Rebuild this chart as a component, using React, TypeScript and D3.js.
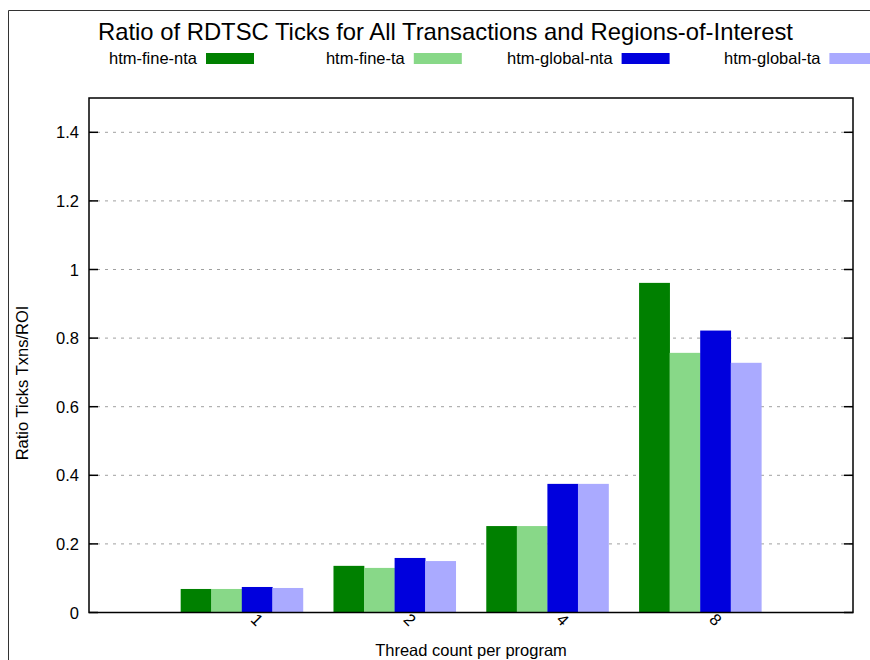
import React from "react";
import * as d3 from "d3";

const categories = ["1", "2", "4", "8"];
const seriesNames = ["htm-fine-nta", "htm-fine-ta", "htm-global-nta", "htm-global-ta"];
const seriesColors = ["#008000", "#88d888", "#0000dd", "#aaaaff"];
const htmFineNta = [0.0686, 0.136, 0.252, 0.961];
const htmFineTa = [0.0686, 0.13, 0.252, 0.757];
const htmGlobalNta = [0.0744, 0.159, 0.375, 0.822];
const htmGlobalTa = [0.0715, 0.15, 0.375, 0.728];
const yTicks = [0, 0.2, 0.4, 0.6, 0.8, 1, 1.2, 1.4];

const W = 870;
const H = 660;
const margin = { left: 89, right: 17, top: 98, bottom: 47.5 };
const font = "'Liberation Sans', Arial, sans-serif";

export default function App() {
  const series = [htmFineNta, htmFineTa, htmGlobalNta, htmGlobalTa];
  const x0 = margin.left;
  const x1 = W - margin.right;
  const y0 = H - margin.bottom;
  const y1 = margin.top;
  const x = d3.scaleLinear().domain([-1, 4]).range([x0, x1]);
  const y = d3.scaleLinear().domain([0, 1.5]).range([y0, y1]);
  const slot = x(1) - x(0);
  const barW = (slot * 0.8) / 4;

  return (
    <svg
      width={W}
      height={H}
      style={{ position: "absolute", left: 0, top: 0, background: "#fff" }}
      fontFamily={font}
    >
      <rect x={0} y={0} width={W} height={H} fill="#fff" />
      {/* outer frame */}
      <line x1={8.5} y1={10.5} x2={8.5} y2={H} stroke="#333" strokeWidth={1} />
      <line x1={8.5} y1={10.5} x2={W} y2={10.5} stroke="#333" strokeWidth={1} />

      {/* title */}
      <text x={445.5} y={40} textAnchor="middle" fontSize={23.8} fill="#000" textLength={695} lengthAdjust="spacingAndGlyphs">
        Ratio of RDTSC Ticks for All Transactions and Regions-of-Interest
      </text>

      {/* legend */}
      {seriesNames.map((name, i) => {
        const tx = 197 + i * 207.8;
        return (
          <g key={name}>
            <text x={tx} y={64} textAnchor="end" fontSize={16.5} fill="#000">
              {name}
            </text>
            <rect x={tx + 9} y={53} width={48} height={11} fill={seriesColors[i]} />
          </g>
        );
      })}

      {/* grid */}
      {yTicks.filter((t) => t > 0).map((t) => (
        <line
          key={"g" + t}
          x1={x0}
          x2={x1}
          y1={y(t)}
          y2={y(t)}
          stroke="#a0a0a0"
          strokeWidth={1}
          strokeDasharray="3,5"
        />
      ))}

      {/* bars */}
      {categories.map((c, ci) =>
        series.map((vals, si) => (
          <rect
            key={c + "-" + si}
            x={x(ci) - 2 * barW + si * barW}
            y={y(vals[ci])}
            width={barW + 0.3}
            height={y(0) - y(vals[ci])}
            fill={seriesColors[si]}
          />
        ))
      )}

      {/* y ticks */}
      {yTicks.map((t) => (
        <g key={"t" + t}>
          <line x1={x0} x2={x0 + 9} y1={y(t)} y2={y(t)} stroke="#000" strokeWidth={1.5} />
          <line x1={x1} x2={x1 - 9} y1={y(t)} y2={y(t)} stroke="#000" strokeWidth={1.5} />
          <text x={x0 - 10} y={y(t) + 6} textAnchor="end" fontSize={16.5} fill="#000">
            {d3.format("~g")(t)}
          </text>
        </g>
      ))}

      {/* frame */}
      <rect x={x0} y={y1} width={x1 - x0} height={y0 - y1} fill="none" stroke="#000" strokeWidth={1.5} />

      {/* x tick labels */}
      {categories.map((c, ci) => (
        <text
          key={"xl" + c}
          transform={`translate(${x(ci) + 8},${y0 + 8}) rotate(45)`}
          textAnchor="start"
          fontSize={16.5}
          fill="#000"
        >
          {c}
        </text>
      ))}

      {/* axis titles */}
      <text x={471} y={656} textAnchor="middle" fontSize={16.5} fill="#000">
        Thread count per program
      </text>
      <text
        transform={`translate(28,383) rotate(-90)`}
        textAnchor="middle"
        fontSize={16.5}
        fill="#000"
      >
        Ratio Ticks Txns/ROI
      </text>
    </svg>
  );
}
